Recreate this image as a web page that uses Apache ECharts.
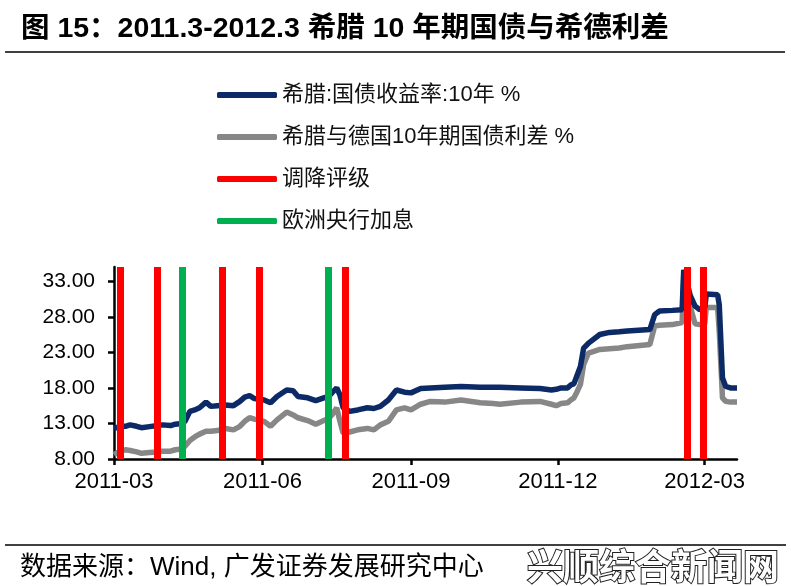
<!DOCTYPE html>
<html><head><meta charset="utf-8">
<script src="https://cdn.jsdelivr.net/npm/echarts@6/dist/echarts.min.js"></script>
<style>html,body{margin:0;padding:0;background:#fff}#c{width:791px;height:586px}</style>
</head><body><div id="c"></div><script>
// ---- data ----
const dates = ['2011-03-01','2011-03-04','2011-03-08','2011-03-11','2011-03-15','2011-03-18','2011-03-23','2011-03-28','2011-03-31',
'2011-04-05','2011-04-08','2011-04-12','2011-04-14','2011-04-17','2011-04-20','2011-04-23','2011-04-27','2011-04-30',
'2011-05-04','2011-05-09','2011-05-14','2011-05-18','2011-05-21','2011-05-24','2011-05-27',
'2011-06-02','2011-06-06','2011-06-10','2011-06-16','2011-06-20','2011-06-23','2011-06-29',
'2011-07-04','2011-07-09','2011-07-12','2011-07-14','2011-07-17','2011-07-19','2011-07-21','2011-07-25','2011-07-30',
'2011-08-05','2011-08-09','2011-08-13','2011-08-18','2011-08-23','2011-08-28',
'2011-09-01','2011-09-07','2011-09-13','2011-09-22','2011-10-02','2011-10-14','2011-10-22','2011-10-26',
'2011-11-08','2011-11-20','2011-11-27','2011-11-30',
'2011-12-03','2011-12-07','2011-12-09','2011-12-11','2011-12-13','2011-12-15','2011-12-17','2011-12-20','2011-12-27',
'2012-01-02','2012-01-08','2012-01-13','2012-01-27','2012-01-30',
'2012-02-02','2012-02-10','2012-02-16','2012-02-17','2012-02-21','2012-02-24','2012-02-27',
'2012-03-01','2012-03-02','2012-03-09','2012-03-10','2012-03-12','2012-03-14','2012-03-17','2012-03-21'];
const yield10y = [12.3,12.5,12.6,12.8,12.6,12.4,12.55,12.7,12.8,
12.7,12.9,13.0,13.3,14.7,14.9,15.2,16.0,15.4,
15.5,15.6,15.5,16.1,16.7,16.9,16.5,
16.3,15.9,16.8,17.7,17.6,16.8,16.6,
16.2,16.6,16.8,17.3,18.0,17.0,15.2,14.7,14.9,
15.2,15.1,15.4,16.3,17.7,17.4,
17.3,17.9,18.0,18.1,18.2,18.1,18.1,18.1,
18.0,17.9,17.7,17.8,
18.0,18.0,18.4,18.6,19.8,21.0,23.6,24.3,25.5,
25.8,25.9,26.0,26.2,28.3,
28.8,28.9,29.0,34.6,31.0,29.5,29.0,
29.2,31.2,31.1,29.7,19.4,18.2,18.0,18.0];
const spreadDE = [8.6,9.0,9.3,9.2,9.0,8.8,8.9,9.0,9.1,
9.1,9.3,9.4,9.8,10.6,11.1,11.5,11.9,11.9,
12.0,12.3,12.1,12.6,13.3,13.8,13.6,
13.3,12.6,13.5,14.6,14.2,13.8,13.4,
12.9,13.4,13.7,14.2,15.2,13.3,11.6,11.8,12.1,
12.3,12.1,12.8,13.3,14.9,15.2,
14.9,15.7,16.1,16.0,16.3,15.9,15.8,15.7,
16.0,16.1,15.7,15.5,
15.8,15.9,16.3,16.6,17.5,18.5,21.3,22.9,23.4,
23.5,23.6,23.8,24.1,26.7,
26.8,26.9,27.2,33.8,29.5,27.0,26.9,
27.0,29.3,29.3,26.0,16.6,16.1,16.0,16.0];
const downgradeDates = ['2011-03-05','2011-03-28','2011-05-07','2011-05-30','2011-07-22','2012-02-19','2012-02-29'];
const ecbHikeDates = ['2011-04-12','2011-07-12'];
const yTickValues = [8,13,18,23,28,33];
const xTickDates = ['2011-03-01','2011-06-01','2011-09-01','2011-12-01','2012-03-01'];
const xRange = ['2011-03-01','2012-03-21'];
const seriesNames = ['希腊:国债收益率:10年 %','希腊与德国10年期国债利差 %','调降评级','欧洲央行加息'];

const DAY = 86400000;
function ts(s){const p=s.split('-').map(Number);return Date.UTC(p[0],p[1]-1,p[2]);}
const T0 = ts(xRange[0]);
function dn(s){return Math.round((ts(s)-T0)/DAY);}
function fmtDay(v){const d=new Date(T0+v*DAY);return d.getUTCFullYear()+'-'+String(d.getUTCMonth()+1).padStart(2,'0');}
const FONT = '"Liberation Sans","Noto Sans CJK SC",Arial,sans-serif';
const xTicks = xTickDates.map(dn);

const chart = echarts.init(document.getElementById('c'), null, {renderer:'canvas'});
chart.setOption({
  animation:false,
  backgroundColor:'#fff',
  grid:{left:114,right:54,top:267,bottom:127,containLabel:false},
  legend:{
    orient:'vertical',left:212,top:79,itemWidth:60,itemHeight:6,itemGap:20,icon:'roundRect',
    textStyle:{fontSize:22,lineHeight:22,color:'#111',fontFamily:FONT},
    data:seriesNames
  },
  xAxis:{
    type:'value',min:dn(xRange[0]),max:dn(xRange[1]),
    axisLine:{lineStyle:{color:'#000',width:2.5}},
    axisTick:{show:true,length:6,lineStyle:{color:'#000',width:2.5},customValues:xTicks},
    axisLabel:{customValues:xTicks,fontSize:22,color:'#000',margin:12,fontFamily:FONT,formatter:fmtDay},
    splitLine:{show:false}
  },
  yAxis:{
    type:'value',min:8,max:35,
    axisLine:{show:true,lineStyle:{color:'#000',width:2.5}},
    axisTick:{show:true,length:6,lineStyle:{color:'#000',width:2.5},customValues:yTickValues},
    axisLabel:{customValues:yTickValues,fontSize:21,color:'#000',margin:19,fontFamily:FONT,
      formatter:function(v){return v.toFixed(2);}},
    splitLine:{show:false}
  },
  series:[
    {name:seriesNames[0],type:'line',showSymbol:false,symbol:'none',color:'#0b2a66',
      lineStyle:{width:5.5,color:'#0b2a66'},data:dates.map((d,i)=>[dn(d),yield10y[i]]),z:3},
    {name:seriesNames[1],type:'line',showSymbol:false,symbol:'none',color:'#878787',
      lineStyle:{width:5.5,color:'#878787'},data:dates.map((d,i)=>[dn(d),spreadDE[i]]),z:2},
    {name:seriesNames[2],type:'line',color:'#ff0000',data:[],z:5,
      markLine:{silent:true,symbol:['none','none'],label:{show:false},animation:false,
        lineStyle:{color:'#ff0000',width:7,type:'solid'},
        data:downgradeDates.map(d=>({xAxis:dn(d)}))}},
    {name:seriesNames[3],type:'line',color:'#00b050',data:[],z:5,
      markLine:{silent:true,symbol:['none','none'],label:{show:false},animation:false,
        lineStyle:{color:'#00b050',width:7,type:'solid'},
        data:ecbHikeDates.map(d=>({xAxis:dn(d)}))}}
  ],
  graphic:[
    {type:'text',left:21,top:15,style:{text:'图 15：2011.3-2012.3 希腊 10 年期国债与希德利差',font:'bold 28.5px '+FONT,fill:'#000'}},
    {type:'line',shape:{x1:5,y1:52,x2:785,y2:52},style:{stroke:'#000',lineWidth:1.5}},
    {type:'line',shape:{x1:5,y1:545,x2:786,y2:545},style:{stroke:'#000',lineWidth:1.5}},
    {type:'text',left:20,top:555,style:{text:'数据来源：Wind, 广发证券发展研究中心',font:'26px '+FONT,fill:'#000'}},
    {type:'text',left:526,top:547,style:{text:'兴顺综合新闻网',font:'bold 36px "Noto Sans CJK SC",sans-serif',fill:'#fff',stroke:'#222',lineWidth:2}}
  ]
});
</script></body></html>
